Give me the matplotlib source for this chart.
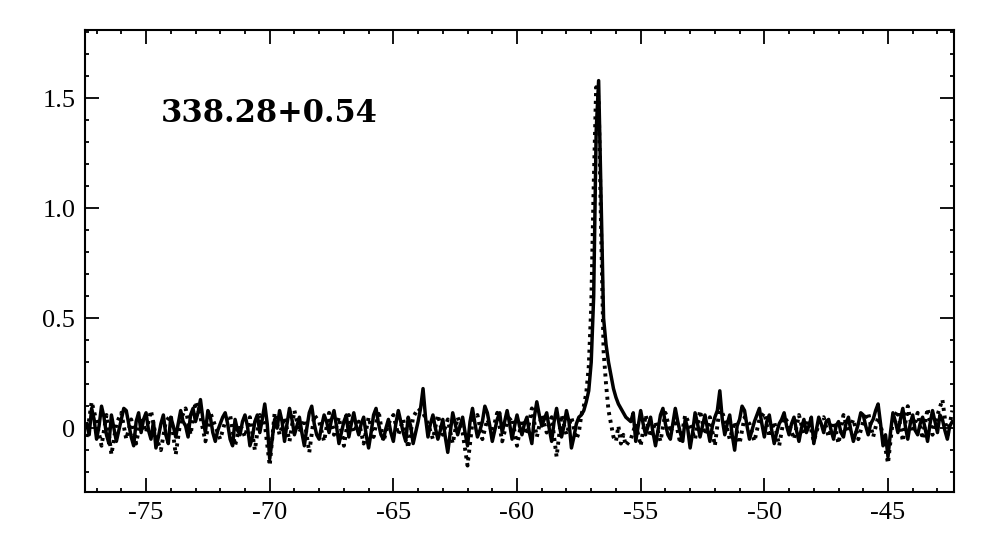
import numpy as np
import matplotlib
matplotlib.use("Agg")
import matplotlib.pyplot as plt
from matplotlib.ticker import MultipleLocator, FixedLocator, FixedFormatter

# channel grids (km/s)
v0_left, v0_peak, v0_right = -77.4, -57.5, -55.4
dv_solid = 0.1            # solid spectrum: 0.1 km/s everywhere
dv_dot_base = 0.2         # dotted spectrum: 0.2 km/s off the line, 0.1 on it
dv_dot_peak = 0.1

# solid spectrum
solid_left = [0.02, -0.03, 0.09, 0.04, -0.05, 0.01, 0.10, 0.05, -0.03, -0.07,
              0.06, 0.00, -0.06, -0.01, 0.04, 0.09, 0.08, 0.02, -0.04, -0.08,
              0.03, 0.07, -0.02, 0.04, 0.07, -0.01, -0.05, 0.03, -0.09, -0.04,
              0.02, 0.06, -0.03, -0.07, 0.05, 0.01, -0.04, 0.02, 0.08, 0.03,
              0.01, -0.04, 0.06, 0.09, 0.03, 0.07, 0.13, 0.04, -0.02, 0.08,
              0.05, -0.02, -0.06, -0.01, 0.02, 0.05, 0.07, 0.02, -0.05, -0.08,
              0.04, -0.01, -0.03, 0.03, 0.06, 0.01, -0.08, -0.04, 0.03, 0.06,
              -0.02, 0.04, 0.11, 0.02, -0.14, -0.05, 0.04, 0.00, 0.08, 0.03,
              -0.06, 0.02, 0.09, 0.04, -0.03, 0.01, 0.05, -0.02, -0.08, 0.00,
              0.07, 0.10, 0.02, -0.03, -0.05, 0.01, 0.06, 0.03, -0.02, 0.04,
              0.08, 0.01, -0.07, -0.02, 0.03, 0.06, -0.04, 0.02, 0.07, 0.01,
              -0.03, 0.02, 0.05, -0.03, -0.09, -0.02, 0.06, 0.09, 0.02, -0.03,
              -0.05, 0.00, 0.04, -0.02, -0.06, 0.02, 0.08, 0.03, -0.02, -0.06,
              0.05, 0.01, -0.07, -0.02, 0.03, 0.09, 0.18, 0.05, -0.04, 0.02,
              0.06, 0.00, -0.05, -0.01, 0.04, -0.04, -0.11, -0.02, 0.07, 0.02,
              -0.03, 0.01, 0.05, -0.02, -0.08, 0.03, 0.09, 0.02, -0.04, -0.01,
              0.03, 0.10, 0.07, 0.01, -0.06, -0.01, 0.04, 0.07, -0.02, 0.03,
              0.08, 0.02, -0.05, 0.01, 0.06, 0.01, -0.03, 0.02, 0.05, -0.02,
              -0.07, 0.05, 0.12, 0.06, 0.01, 0.04, 0.07, 0.00, -0.06, 0.03,
              0.09, 0.02, -0.04, 0.01, 0.08, 0.03, -0.09, -0.04, 0.02]
solid_peak = [0.05, 0.06, 0.08, 0.12, 0.17, 0.30, 0.60, 1.35, 1.58, 1.05,
              0.50, 0.38, 0.30, 0.24, 0.18, 0.14, 0.11, 0.09, 0.07, 0.05]
solid_right = [0.03, 0.07, -0.06, 0.01, 0.08, 0.02, -0.03, 0.01, 0.05, -0.02,
               -0.08, -0.01, 0.06, 0.09, 0.02, -0.03, -0.05, 0.02, 0.09, 0.03,
               -0.02, -0.06, 0.04, 0.00, -0.09, -0.02, 0.07, 0.02, -0.04, 0.01,
               0.06, 0.00, -0.06, 0.01, 0.05, 0.08, 0.17, 0.04, -0.03, 0.02,
               0.06, -0.03, -0.10, 0.01, 0.04, 0.10, 0.08, 0.01, -0.05, -0.01,
               0.03, 0.06, 0.09, 0.02, -0.04, 0.03, 0.06, -0.01, -0.07, -0.02,
               0.02, 0.04, 0.07, 0.01, -0.03, 0.02, 0.05, -0.01, -0.06, 0.00,
               0.04, -0.02, 0.01, 0.05, -0.07, -0.01, 0.05, 0.02, -0.02, 0.03,
               0.04, -0.01, -0.05, 0.01, 0.03, -0.02, -0.04, 0.02, 0.05, -0.01,
               -0.06, -0.02, 0.02, 0.07, 0.06, 0.01, -0.03, 0.02, 0.04, 0.08,
               0.11, 0.02, -0.08, -0.03, -0.13, -0.02, 0.07, 0.03, -0.02, 0.04,
               0.09, 0.01, -0.05, 0.02, 0.06, -0.01, -0.03, 0.02, 0.05, 0.00,
               -0.06, 0.02, 0.08, 0.03, -0.02, 0.06, 0.04, -0.01, -0.05, 0.01,
               0.03]

# dotted spectrum
dot_left = [-0.04, 0.12, 0.03, -0.08, 0.06, -0.12, 0.02, 0.07, -0.05, 0.04,
            -0.07, 0.05, -0.02, 0.08, -0.04, -0.10, 0.03, 0.06, -0.12, 0.04,
            0.09, -0.03, 0.12, 0.05, -0.06, 0.07, 0.01, -0.05, 0.03, 0.06,
            -0.08, 0.02, -0.04, 0.05, -0.10, 0.06, 0.02, -0.17, 0.07, -0.03,
            0.05, -0.06, 0.08, -0.02, 0.04, -0.11, 0.06, 0.03, -0.06, 0.07,
            -0.03, 0.05, -0.08, 0.06, -0.02, 0.03, -0.07, 0.05, -0.04, 0.08,
            -0.06, 0.02, 0.06, -0.03, 0.04, -0.09, 0.05, 0.09, 0.07, 0.02,
            -0.05, 0.06, -0.03, 0.04, -0.07, 0.05, -0.02, -0.17, 0.03, 0.06,
            -0.05, 0.04, -0.02, 0.07, -0.06, 0.03, 0.05, -0.08, 0.04, -0.03,
            0.09, -0.04, 0.06, -0.02, 0.05, -0.13, 0.06, -0.03, 0.05, -0.05]
dot_peak = [-0.02, 0.06, 0.10, 0.16, 0.28, 0.55, 1.10, 1.55, 1.50, 0.90,
            0.35, 0.20, 0.08, 0.02, -0.04, -0.06, 0.01, -0.07, -0.03, -0.08]
dot_right = [-0.05, 0.02, -0.08, 0.06, -0.04, 0.03, -0.06, 0.07, -0.02, 0.04,
             -0.07, 0.06, 0.01, -0.05, 0.08, -0.03, 0.05, -0.08, 0.10, 0.04,
             -0.05, 0.03, -0.07, 0.05, 0.02, -0.06, 0.04, 0.07, -0.04, 0.03,
             -0.08, 0.05, 0.02, -0.05, 0.06, -0.03, 0.04, -0.06, 0.02, 0.05,
             -0.04, 0.03, -0.07, 0.06, -0.02, 0.04, -0.05, 0.03, 0.07, -0.04,
             0.05, -0.03, -0.16, 0.04, 0.08, -0.06, 0.10, -0.02, 0.07, -0.05,
             0.09, -0.03, 0.06, 0.13, -0.04, 0.08]

source_label = "338.28+0.54"
ytick_vals = [0, 0.5, 1.0, 1.5]
ytick_text = ["0", "0.5", "1.0", "1.5"]


def grid(v0, dv, vals):
    return v0 + dv * np.arange(len(vals))


v_s = np.concatenate([grid(v0_left, dv_solid, solid_left),
                      grid(v0_peak, dv_solid, solid_peak),
                      grid(v0_right, dv_solid, solid_right)])
t_s = np.array(solid_left + solid_peak + solid_right)
v_d = np.concatenate([grid(v0_left, dv_dot_base, dot_left),
                      grid(v0_peak, dv_dot_peak, dot_peak),
                      grid(v0_right, dv_dot_base, dot_right)])
t_d = np.array(dot_left + dot_peak + dot_right)

plt.rcParams["font.family"] = ["Liberation Serif", "DejaVu Serif"]
plt.rcParams["axes.unicode_minus"] = False

fig = plt.figure(figsize=(9.81, 5.42), dpi=100)
ax = fig.add_axes([0.0866, 0.0923, 0.8859, 0.8523])

ax.plot(v_d, t_d, color="black", lw=2.8, ls=(0, (0.8, 1.2)))
ax.plot(v_s, t_s, color="black", lw=2.5)

ax.set_xlim(-77.47, -42.33)
ax.set_ylim(-0.29, 1.81)

ax.xaxis.set_major_locator(MultipleLocator(5))
ax.xaxis.set_minor_locator(MultipleLocator(1))
ax.yaxis.set_major_locator(FixedLocator(ytick_vals))
ax.yaxis.set_major_formatter(FixedFormatter(ytick_text))
ax.yaxis.set_minor_locator(MultipleLocator(0.1))

ax.tick_params(which="both", direction="in", top=True, right=True,
               labelsize=19, width=1.3)
ax.tick_params(which="major", length=10, pad=7)
ax.tick_params(which="minor", length=3)
for s in ax.spines.values():
    s.set_linewidth(1.5)

ax.text(-74.4, 1.43, source_label, fontsize=22, fontweight="bold",
        family="DejaVu Serif", ha="left", va="center")

fig.savefig("out.png", dpi=100)
